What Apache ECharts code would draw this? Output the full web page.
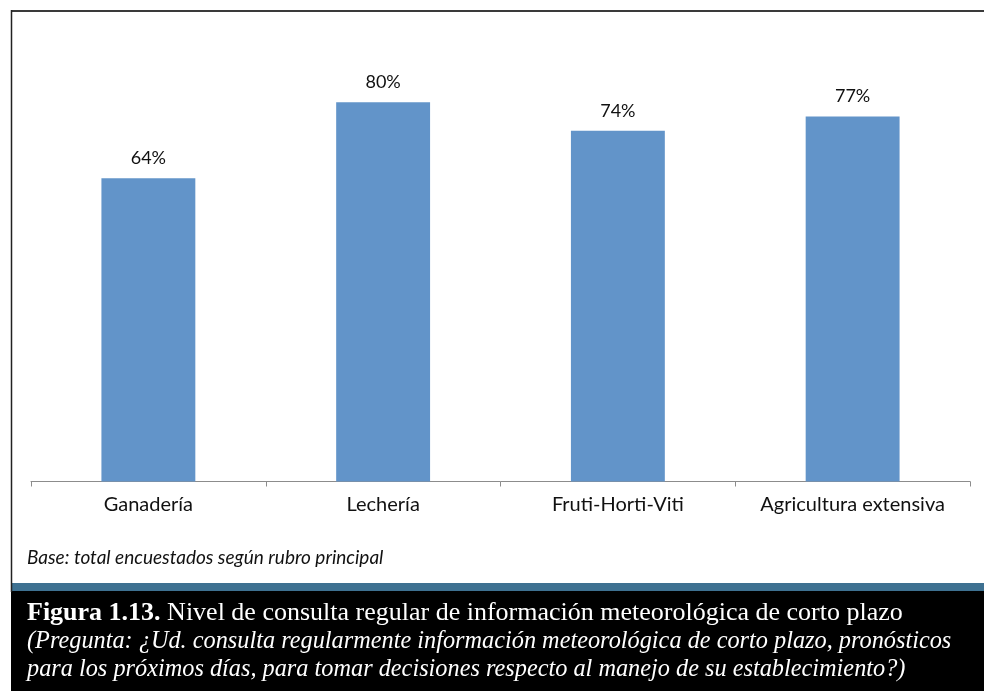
<!DOCTYPE html>
<html>
<head>
<meta charset="utf-8">
<title>Nivel de consulta regular de información meteorológica</title>
<script src="https://cdn.jsdelivr.net/npm/echarts@6/dist/echarts.min.js"></script>
<style>
  html, body { margin: 0; padding: 0; background: #ffffff; }
  #chart { width: 984px; height: 691px; }
</style>
</head>
<body>
<div id="chart"></div>
<script>
// Categories (rubro principal) and share of respondents that consult forecasts (%)
const categories = ['Ganadería', 'Lechería', 'Fruti-Horti-Viti', 'Agricultura extensiva'];
const values = [64, 80, 74, 77];

const baseNote = 'Base: total encuestados según rubro principal';
const captionTitle = 'Figura 1.13.';
const captionText = ' Nivel de consulta regular de información meteorológica de corto plazo';
const captionQuestion = [
  '(Pregunta: ¿Ud. consulta regularmente información meteorológica de corto plazo, pronósticos',
  'para los próximos días, para tomar decisiones respecto al manejo de su establecimiento?)'
];

const chart = echarts.init(document.getElementById('chart'), null, { renderer: 'canvas' });

const sansFont = 'Lato, "Open Sans", sans-serif';
const serifFont = '"Liberation Serif", "DejaVu Serif", serif';

chart.setOption({
  animation: false,
  backgroundColor: '#ffffff',
  grid: { left: 31, right: 14, top: 54.9, bottom: 209.5, containLabel: false },
  xAxis: {
    type: 'category',
    data: categories,
    axisLine: { show: true, lineStyle: { color: '#8c8c8c', width: 1 } },
    axisTick: { show: true, interval: 0, length: 5, alignWithLabel: false, lineStyle: { color: '#8c8c8c' } },
    axisLabel: { interval: 0, hideOverlap: false, color: '#111111', fontFamily: sansFont, fontSize: 20, margin: 13 }
  },
  yAxis: {
    type: 'value',
    min: 0,
    max: 90,
    show: false,
    splitLine: { show: false }
  },
  series: [{
    type: 'bar',
    data: values,
    barWidth: '40%',
    itemStyle: { color: '#6294c9' },
    label: {
      show: true,
      position: 'top',
      distance: 11,
      formatter: p => p.value + '%',
      color: '#111111',
      fontFamily: sansFont,
      fontSize: 18
    }
  }],
  graphic: [
    // frame around the plot area
    { type: 'line', shape: { x1: 11, y1: 11, x2: 984, y2: 11 }, style: { stroke: '#3a3a3a', lineWidth: 2 }, z: 10 },
    { type: 'line', shape: { x1: 11.5, y1: 10, x2: 11.5, y2: 592 }, style: { stroke: '#222222', lineWidth: 1.5 }, z: 10 },
    // note below the axis
    {
      type: 'text', left: 27, top: 548,
      style: { text: baseNote, fill: '#111111', font: 'italic 19px ' + sansFont }
    },
    // caption band
    { type: 'rect', shape: { x: 11, y: 583, width: 973, height: 9 }, style: { fill: '#3e7191' }, z: 5 },
    { type: 'rect', shape: { x: 11, y: 591, width: 973, height: 100 }, style: { fill: '#000000' }, z: 5 },
    {
      type: 'text', left: 27, top: 600, z: 6,
      style: {
        text: '{b|' + captionTitle + '}{n|' + captionText + '}\n{i|' + captionQuestion[0] + '}\n{i|' + captionQuestion[1] + '}',
        fill: '#ffffff',
        rich: {
          b: { fontFamily: serifFont, fontWeight: 'bold', fontSize: 26, lineHeight: 28.5, fill: '#ffffff' },
          n: { fontFamily: serifFont, fontSize: 26, lineHeight: 28.5, fill: '#ffffff' },
          i: { fontFamily: serifFont, fontStyle: 'italic', fontSize: 24.3, lineHeight: 28.5, fill: '#ffffff' }
        }
      }
    }
  ]
});
</script>
</body>
</html>
